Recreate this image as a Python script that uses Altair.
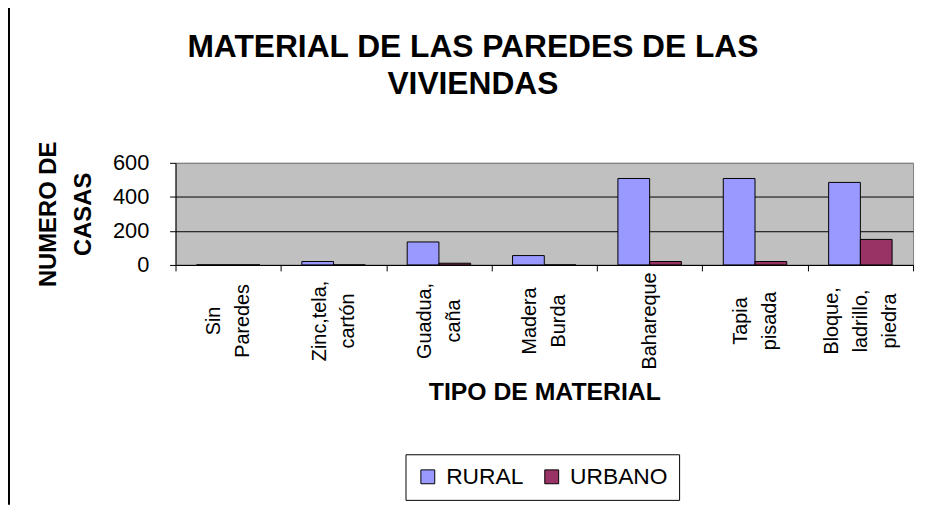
import altair as alt
import pandas as pd

categories = ["Sin Paredes", "Zinc,tela, cartón", "Guadua, caña", "Madera Burda",
              "Bahareque", "Tapia pisada", "Bloque, ladrillo, piedra"]
series = ["RURAL", "URBANO"]
rural = [0, 20, 135, 55, 508, 508, 485]
urbano = [0, 0, 10, 0, 20, 20, 150]
y_ticks = [0, 200, 400, 600]
colors = ["#9999FF", "#993366"]
title_text = "MATERIAL DE LAS PAREDES DE LAS\nVIVIENDAS"

rows = []
for c, r, u in zip(categories, rural, urbano):
    rows.append({"cat": c, "serie": "RURAL", "val": r})
    rows.append({"cat": c, "serie": "URBANO", "val": u})
df = pd.DataFrame(rows)

FONT = "Liberation Sans"

label_offset = {
    "condition": [
        {"test": "length(split(datum.label, ' ')) == 3", "value": -29},
        {"test": "length(split(datum.label, ' ')) == 2", "value": -14.5},
    ],
    "value": 0,
}

bars = alt.Chart(df).mark_bar(stroke="black", strokeWidth=1).encode(
    x=alt.X("cat:N", sort=categories,
            scale=alt.Scale(paddingInner=0, paddingOuter=0),
            axis=alt.Axis(title="TIPO DE MATERIAL", labelAngle=-90, labelAlign="center",
                          labelBaseline="middle", labelPadding=50, labelLineHeight=29,
                          labelOffset=label_offset,
                          labelExpr="split(datum.label, ' ')", labelFontSize=20,
                          labelBound=False, labelOverlap=False, labelColor="black",
                          tickBand="extent", tickSize=6, tickColor="black",
                          domainColor="black", titleFontSize=25, titleFontWeight="bold",
                          titlePadding=11, titleColor="black")),
    xOffset=alt.XOffset("serie:N", sort=series,
                        scale=alt.Scale(paddingInner=0, paddingOuter=0.66)),
    y=alt.Y("val:Q", scale=alt.Scale(domain=[0, 600], nice=False),
            axis=alt.Axis(values=y_ticks, title=["NUMERO DE", "CASAS"], titleFontSize=24,
                          titleFontWeight="bold", titleLineHeight=35, titlePadding=17,
                          titleColor="black",
                          labelFontSize=22, labelPadding=21, labelColor="black",
                          tickSize=6, tickColor="black", domainColor="black",
                          grid=True,
                          gridColor=alt.condition("datum.value == 600", alt.value("#808080"), alt.value("black")),
                          gridWidth=1)),
    color=alt.Color("serie:N", sort=series,
                    scale=alt.Scale(domain=series, range=colors),
                    legend=alt.Legend(title=None, orient="none", legendX=232, legendY=294,
                                      direction="horizontal", strokeColor="black",
                                      fillColor="white", padding=11, labelFontSize=23,
                                      symbolType="square", symbolSize=196,
                                      symbolStrokeColor="black", symbolStrokeWidth=1,
                                      columnPadding=17, labelOffset=7, labelColor="black")),
)

title_df = pd.DataFrame({"t": [title_text]})
title = alt.Chart(title_df).mark_text(
    font=FONT, fontSize=32, fontWeight="bold",
    lineBreak="\n", lineHeight=38, align="center", baseline="alphabetic", color="black"
).encode(text="t:N", x=alt.value(300), y=alt.value(-107))

frame_df = pd.DataFrame({"a": [0]})
left_line = alt.Chart(frame_df).mark_rule(color="black", strokeWidth=2).encode(
    x=alt.value(-168), y=alt.value(-160), y2=alt.value(345))
top_line = alt.Chart(frame_df).mark_rule(color="black", strokeWidth=2).encode(
    x=alt.value(-169), x2=alt.value(755), y=alt.value(-158))

chart = alt.layer(bars, title, left_line, top_line).properties(
    width=744, height=103,
    autosize=alt.AutoSizeParams(type="none"),
    padding={"left": 169, "top": 154, "right": 5, "bottom": 242},
).configure(font=FONT).configure_view(
    fill="#C0C0C0", stroke="#808080", strokeWidth=1
).configure_axis(labelFont=FONT, titleFont=FONT).configure_legend(labelFont=FONT)

chart.save("out.html", embed_options={"renderer": "svg", "actions": False})
